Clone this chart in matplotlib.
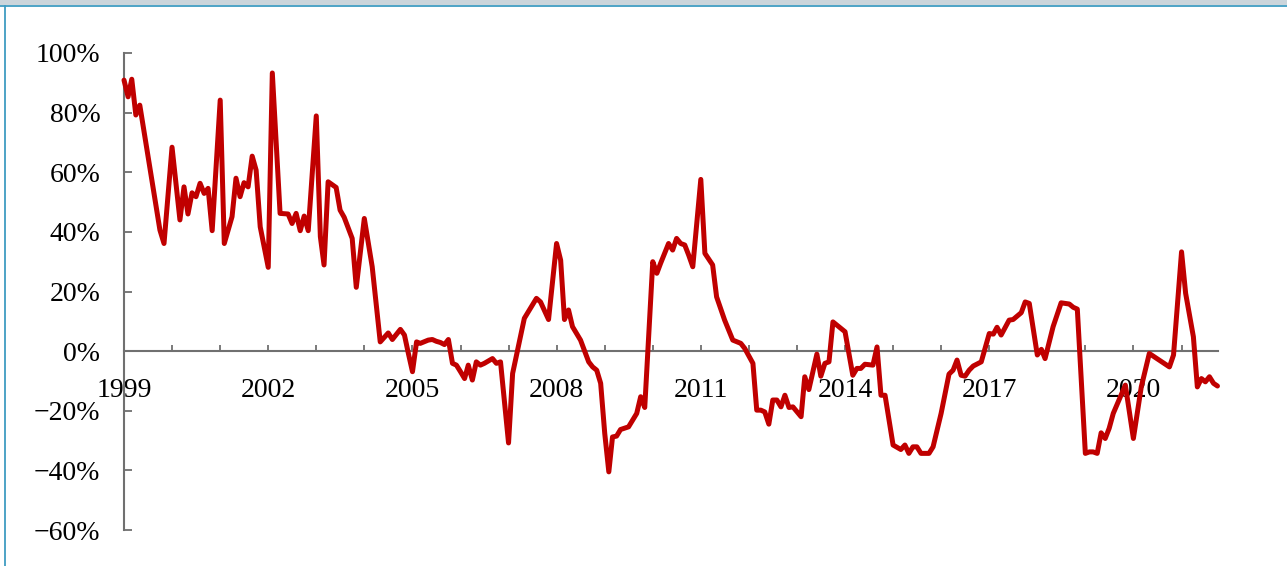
import matplotlib
matplotlib.use("Agg")
import matplotlib.pyplot as plt
from matplotlib.patches import Rectangle
from matplotlib.lines import Line2D
import pandas as pd

# Monthly year-on-year growth (%), turning points of the series
dates = [
    "1999-01", "1999-02", "1999-03", "1999-04", "1999-05", "1999-10", "1999-11",
    "2000-01", "2000-03", "2000-04", "2000-05", "2000-06", "2000-07", "2000-08", "2000-09", "2000-10", "2000-11",
    "2001-01", "2001-02", "2001-04", "2001-05", "2001-06", "2001-07", "2001-08", "2001-09", "2001-10", "2001-11",
    "2002-01", "2002-02", "2002-04", "2002-06", "2002-07", "2002-08", "2002-09", "2002-10", "2002-11",
    "2003-01", "2003-02", "2003-03", "2003-04", "2003-06", "2003-07", "2003-08", "2003-10", "2003-11",
    "2004-01", "2004-03", "2004-05", "2004-07", "2004-08", "2004-10", "2004-11", "2004-12",
    "2005-01", "2005-02", "2005-03", "2005-05", "2005-06", "2005-07", "2005-08", "2005-09", "2005-10", "2005-11", "2005-12",
    "2006-01", "2006-02", "2006-03", "2006-04", "2006-05", "2006-06", "2006-07", "2006-09", "2006-10", "2006-11",
    "2007-01", "2007-02", "2007-04", "2007-05", "2007-08", "2007-09", "2007-11",
    "2008-01", "2008-02", "2008-03", "2008-04", "2008-05", "2008-07", "2008-09", "2008-10", "2008-11", "2008-12",
    "2009-01", "2009-02", "2009-03", "2009-04", "2009-05", "2009-07", "2009-09", "2009-10", "2009-11",
    "2010-01", "2010-02", "2010-03", "2010-05", "2010-06", "2010-07", "2010-08", "2010-09", "2010-10", "2010-11",
    "2011-01", "2011-02", "2011-04", "2011-05", "2011-07", "2011-09", "2011-11", "2011-12",
    "2012-02", "2012-03", "2012-04", "2012-05", "2012-06", "2012-07", "2012-08", "2012-09", "2012-10", "2012-11", "2012-12",
    "2013-02", "2013-03", "2013-04", "2013-06", "2013-07", "2013-08", "2013-09", "2013-10",
    "2014-01", "2014-03", "2014-04", "2014-05", "2014-06", "2014-08", "2014-09", "2014-10", "2014-11",
    "2015-01", "2015-03", "2015-04", "2015-05", "2015-06", "2015-07", "2015-08", "2015-10", "2015-11",
    "2016-01", "2016-03", "2016-04", "2016-05", "2016-06", "2016-07", "2016-08", "2016-09", "2016-11",
    "2017-01", "2017-02", "2017-03", "2017-04", "2017-06", "2017-07", "2017-09", "2017-10", "2017-11",
    "2018-01", "2018-02", "2018-03", "2018-05", "2018-07", "2018-09", "2018-10", "2018-11",
    "2019-01", "2019-02", "2019-03", "2019-04", "2019-05", "2019-06", "2019-07", "2019-08", "2019-11",
    "2020-01", "2020-03", "2020-05", "2020-10", "2020-11",
    "2021-01", "2021-02", "2021-04", "2021-05", "2021-06", "2021-07", "2021-08", "2021-09", "2021-10",
]

growth = [
    90.9, 85.3, 91.2, 79.2, 82.5, 40.6, 36.1,
    68.4, 44.0, 55.1, 46.0, 53.1, 51.8, 56.3, 52.9, 54.6, 40.4,
    84.2, 36.1, 45.1, 58.0, 51.8, 56.5, 55.1, 65.4, 60.7, 41.7,
    28.1, 93.3, 46.2, 46.0, 42.8, 46.2, 40.4, 45.3, 40.4,
    78.9, 38.4, 28.9, 56.8, 54.9, 47.3, 44.9, 37.8, 21.4,
    44.5, 28.3, 3.1, 6.1, 3.9, 7.3, 5.4, -0.8,
    -6.9, 3.1, 2.6, 3.7, 3.9, 3.3, 2.9, 2.2, 3.9, -4.1, -4.7,
    -6.9, -9.2, -4.7, -9.7, -3.6, -4.7, -4.1, -2.5, -4.1, -3.6,
    -30.8, -7.5, 4.8, 11.0, 17.7, 16.5, 10.6,
    36.1, 30.5, 10.6, 13.8, 8.2, 3.7, -3.6, -5.3, -6.4, -10.8,
    -27.6, -40.5, -28.8, -28.5, -26.3, -25.4, -20.9, -15.3, -18.9,
    30.0, 26.1, 29.4, 36.1, 33.9, 37.8, 36.1, 35.6, 32.2, 28.3,
    57.6, 32.8, 28.9, 18.2, 10.4, 3.7, 2.6, 0.9,
    -4.1, -19.8, -19.8, -20.4, -24.5, -16.4, -16.4, -18.7, -14.8, -18.9, -18.7,
    -22.0, -8.6, -12.9, -1.0, -8.4, -4.1, -3.6, 9.8,
    6.5, -8.1, -5.8, -5.8, -4.4, -4.7, 1.4, -14.8, -14.8,
    -31.5, -33.0, -31.5, -34.3, -32.1, -32.1, -34.3, -34.3, -32.1,
    -20.9, -7.7, -6.4, -3.0, -8.1, -8.4, -6.4, -5.0, -3.6,
    5.9, 5.7, 8.0, 5.4, 10.4, 10.6, 12.9, 16.5, 16.0,
    -1.3, 0.6, -2.5, 8.2, 16.2, 15.8, 14.7, 14.1,
    -34.3, -33.8, -33.8, -34.3, -27.4, -29.3, -25.9, -20.9, -11.4,
    -29.3, -12.0, -0.8, -5.3, -1.3,
    33.3, 19.4, 4.8, -12.0, -9.2, -10.3, -8.6, -10.8, -11.7,
]

tick_years = list(range(1999, 2022))
label_years = [1999, 2002, 2005, 2008, 2011, 2014, 2017, 2020]
y_ticks = [-60, -40, -20, 0, 20, 40, 60, 80, 100]

LINE_RED = "#C00000"
AXIS_GRAY = "#707070"
FONT = "Liberation Serif"

W, H = 1287, 566
fig = plt.figure(figsize=(W / 100, H / 100), dpi=100)
fig.patch.set_facecolor("white")

left, right = 124 / W, 1218 / W
top, bottom = 1 - 53 / H, 1 - 530 / H
ax = fig.add_axes([left, bottom, right - left, top - bottom])

x = pd.to_datetime(dates, format="%Y-%m")
ax.plot(x, growth, color=LINE_RED, lw=3.6, solid_joinstyle="round",
        solid_capstyle="round", zorder=3, clip_on=False)

ax.set_ylim(-60, 100)
ax.set_xlim(pd.Timestamp("1999-01-01"), pd.Timestamp("2021-10-05"))

# spines: y axis on the left, x axis through zero
for side in ("top", "right"):
    ax.spines[side].set_visible(False)
ax.spines["bottom"].set_position(("data", 0))
for side in ("left", "bottom"):
    ax.spines[side].set_color(AXIS_GRAY)
    ax.spines[side].set_linewidth(1.5)
    ax.spines[side].set_zorder(2)

ax.set_yticks(y_ticks)
ax.set_yticklabels([f"{v}%".replace("-", "\u2212") for v in y_ticks])
ax.set_xticks([pd.Timestamp(f"{y}-01-01") for y in tick_years])
ax.set_xticklabels([str(y) if y in label_years else "" for y in tick_years])

ax.tick_params(axis="y", direction="in", length=6, width=1.3, color=AXIS_GRAY,
               pad=17, labelsize=20, labelcolor="black")
ax.tick_params(axis="x", direction="in", length=4.5, width=1.3, color=AXIS_GRAY,
               pad=19, labelsize=20, labelcolor="black")
for lab in ax.get_xticklabels() + ax.get_yticklabels():
    lab.set_fontfamily(FONT)

ax.set_facecolor("none")

# window frame around the chart
fig.add_artist(Rectangle((0, 1 - 5 / H), 1, 5 / H, transform=fig.transFigure,
                         facecolor="#cbd5db", edgecolor="none", zorder=10))
fig.add_artist(Line2D([0, 1], [1 - 6 / H, 1 - 6 / H], transform=fig.transFigure,
                      color="#3f9cc2", lw=1.3, zorder=11))
fig.add_artist(Line2D([4.5 / W, 4.5 / W], [0, 1 - 6 / H], transform=fig.transFigure,
                      color="#3f9cc2", lw=1.3, zorder=11))

fig.savefig("out.png", dpi=100)
